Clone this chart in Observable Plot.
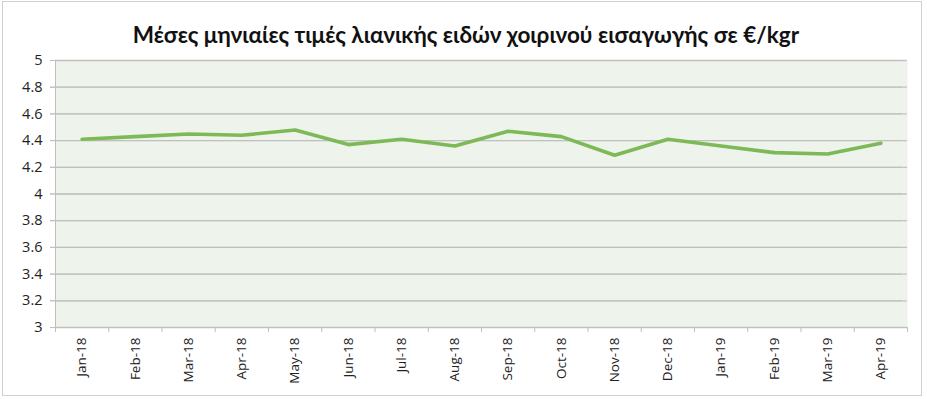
<!DOCTYPE html>
<html>
<head>
<meta charset="utf-8">
<script src="https://cdn.jsdelivr.net/npm/d3@7"></script>
<script src="https://cdn.jsdelivr.net/npm/@observablehq/plot@0.6"></script>
<style>
  html, body { margin: 0; padding: 0; background: #fff; }
  #wrap { position: relative; width: 927px; height: 399px; overflow: hidden; }
  #frame { position: absolute; left: 2px; top: 1px; width: 920px; height: 395px; border: 1px solid #d0d0d0; box-sizing: border-box; pointer-events: none; }
  #title { position: absolute; left: 0; width: 932px; top: 21px; text-align: center; font-family: Lato, "Open Sans", sans-serif; font-weight: bold; font-size: 22.5px; color: #111; }
</style>
</head>
<body>
<div id="wrap">
  <div id="chart"></div>
  <div id="frame"></div>
  <div id="title">Μέσες μηνιαίες τιμές λιανικής ειδών χοιρινού εισαγωγής σε €/kgr</div>
</div>
<script>
const months = ["Jan-18","Feb-18","Mar-18","Apr-18","May-18","Jun-18","Jul-18","Aug-18","Sep-18","Oct-18","Nov-18","Dec-18","Jan-19","Feb-19","Mar-19","Apr-19"];
const prices = [4.41, 4.43, 4.45, 4.44, 4.48, 4.37, 4.41, 4.36, 4.47, 4.43, 4.29, 4.41, 4.36, 4.31, 4.30, 4.38];
const yTicks = [3, 3.2, 3.4, 3.6, 3.8, 4, 4.2, 4.4, 4.6, 4.8, 5];

const data = months.map((m, i) => ({i, month: m, price: prices[i]}));
const bounds = d3.range(months.length + 1).map(i => i - 0.5);

const chart = Plot.plot({
  width: 927,
  height: 399,
  marginTop: 60,
  marginBottom: 72,
  marginLeft: 55,
  marginRight: 20,
  style: {fontFamily: "'Open Sans', sans-serif", background: "transparent"},
  x: {type: "linear", domain: [-0.5, months.length - 0.5], axis: null},
  y: {domain: [3, 5], axis: null},
  marks: [
    Plot.frame({fill: "#eef3ec", stroke: null}),
    Plot.gridY(yTicks, {stroke: "#c4c4c4", strokeOpacity: 1, strokeWidth: 1.3}),
    Plot.ruleX([-0.5], {stroke: "#bfbfbf", strokeWidth: 1}),
    Plot.ruleY([3], {stroke: "#bfbfbf", strokeWidth: 1}),
    Plot.tickY(yTicks, {y: d => d, frameAnchor: "left", dx: -5, stroke: "#bfbfbf", strokeWidth: 1, inset: 0}),
    Plot.axisY(yTicks, {tickSize: 5, stroke: "#bfbfbf", tickFormat: () => "", label: null}),
    Plot.text(yTicks, {y: d => d, frameAnchor: "left", textAnchor: "end", dx: -13, fontSize: 14.5, fill: "#222", text: d => String(+d.toFixed(1))}),
    Plot.axisX(bounds, {tickSize: 5, stroke: "#bfbfbf", tickFormat: () => "", label: null}),
    Plot.text(data, {x: "i", frameAnchor: "bottom", dy: 10, rotate: -90, textAnchor: "end", lineAnchor: "middle", fontSize: 13.5, fill: "#222", text: "month"}),
    Plot.line(data, {x: "i", y: "price", stroke: "#7dba57", strokeWidth: 3.6, strokeLinejoin: "miter"})
  ]
});
document.getElementById("chart").appendChild(chart);
</script>
</body>
</html>
